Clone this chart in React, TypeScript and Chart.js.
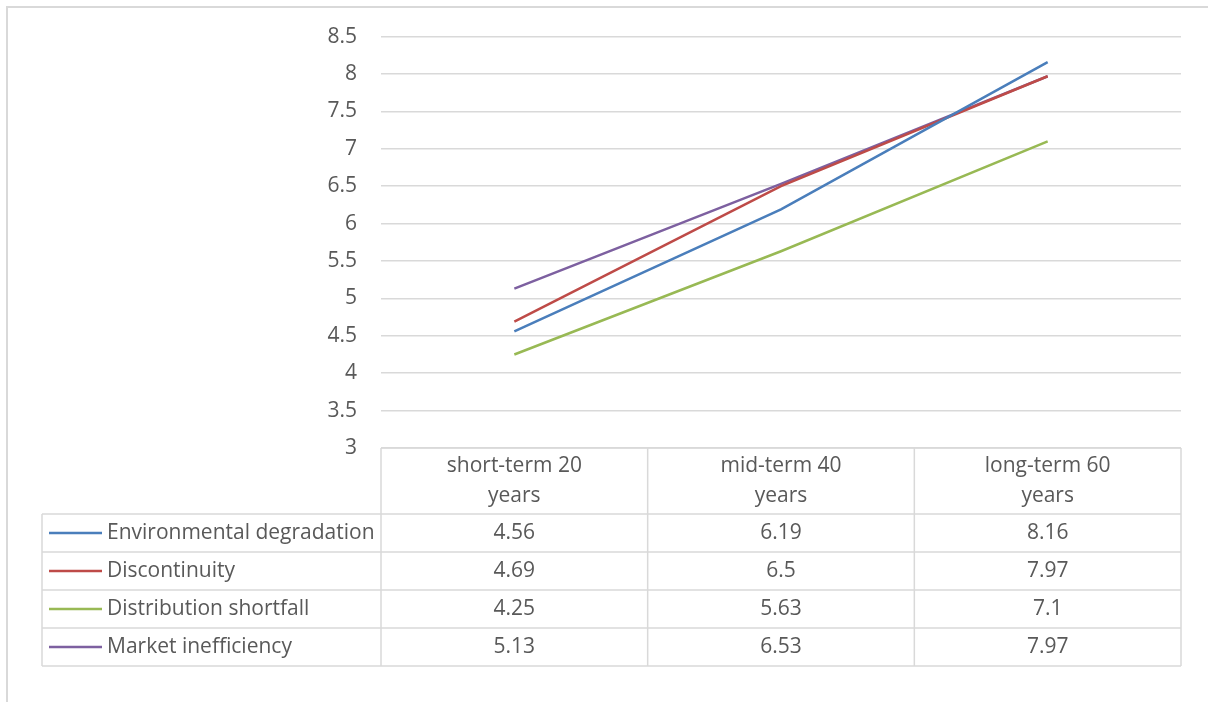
import React, { useEffect, useRef } from "react";
import { Chart, registerables } from "chart.js";

Chart.register(...registerables);

const categories: string[][] = [
  ["short-term 20", "years"],
  ["mid-term 40", "years"],
  ["long-term 60", "years"],
];
const seriesNames = [
  "Environmental degradation",
  "Discontinuity",
  "Distribution shortfall",
  "Market inefficiency",
];
const environmentalDegradation = [4.56, 6.19, 8.16];
const discontinuity = [4.69, 6.5, 7.97];
const distributionShortfall = [4.25, 5.63, 7.1];
const marketInefficiency = [5.13, 6.53, 7.97];
const seriesValues = [
  environmentalDegradation,
  discontinuity,
  distributionShortfall,
  marketInefficiency,
];
const seriesColors = ["#4A7EBB", "#BE4B48", "#98B954", "#7D60A0"];
const yMin = 3;
const yMax = 8.5;
const yStep = 0.5;

const FONT = "'Open Sans', Lato, sans-serif";
const FONT_SIZE = 21;
const TEXT = "#595959";
const LINE = "#D9D9D9";

const frameAndTable = {
  id: "frameAndTable",
  beforeDraw(chart: any) {
    const ctx = chart.ctx;
    ctx.save();
    ctx.strokeStyle = LINE;
    ctx.lineWidth = 2;
    ctx.beginPath();
    ctx.moveTo(7, 800);
    ctx.lineTo(7, 7);
    ctx.lineTo(1400, 7);
    ctx.stroke();
    ctx.restore();
  },
  afterDraw(chart: any) {
    const ctx = chart.ctx;
    const area = chart.chartArea;
    const xs = chart.scales.x;
    const colW = xs.getPixelForValue(1) - xs.getPixelForValue(0);
    const tableLeft = 42;
    const top = area.bottom;
    const headerH = 66;
    const rowH = 38;
    const n = categories.length;
    const bottom = top + headerH + rowH * seriesNames.length;

    ctx.save();
    ctx.strokeStyle = LINE;
    ctx.lineWidth = 1.5;
    ctx.beginPath();
    ctx.moveTo(area.left, top);
    ctx.lineTo(area.right, top);
    for (let r = 0; r <= seriesNames.length; r++) {
      const y = top + headerH + rowH * r;
      ctx.moveTo(tableLeft, y);
      ctx.lineTo(area.right, y);
    }
    for (let c = 0; c <= n; c++) {
      const x = xs.getPixelForValue(c) - colW / 2;
      ctx.moveTo(x, top);
      ctx.lineTo(x, bottom);
    }
    ctx.moveTo(tableLeft, top + headerH);
    ctx.lineTo(tableLeft, bottom);
    ctx.stroke();

    ctx.fillStyle = TEXT;
    ctx.font = `${FONT_SIZE}px ${FONT}`;
    ctx.textAlign = "center";
    ctx.textBaseline = "middle";
    categories.forEach((lines, i) => {
      const cx = xs.getPixelForValue(i);
      const lh = 30;
      const cy = top + headerH / 2 - ((lines.length - 1) * lh) / 2;
      lines.forEach((t, k) => ctx.fillText(t, cx, cy + k * lh));
    });
    seriesNames.forEach((name, r) => {
      const cy = top + headerH + rowH * r + rowH / 2;
      ctx.strokeStyle = seriesColors[r];
      ctx.lineWidth = 2.5;
      ctx.beginPath();
      ctx.moveTo(49, cy);
      ctx.lineTo(102, cy);
      ctx.stroke();
      ctx.textAlign = "left";
      ctx.fillText(name, 107, cy);
      ctx.textAlign = "center";
      seriesValues[r].forEach((v, i) => {
        ctx.fillText(String(v), xs.getPixelForValue(i), cy);
      });
    });
    ctx.restore();
  },
};

export default function App() {
  const ref = useRef<HTMLCanvasElement | null>(null);
  useEffect(() => {
    if (!ref.current) return;
    const chart = new Chart(ref.current, {
      type: "line",
      data: {
        labels: categories,
        datasets: seriesNames.map((name, i) => ({
          label: name,
          data: seriesValues[i],
          borderColor: seriesColors[i],
          backgroundColor: seriesColors[i],
          borderWidth: 2.5,
          pointRadius: 0,
          tension: 0,
        })),
      },
      options: {
        animation: false,
        responsive: false,
        layout: { padding: { top: 31, bottom: 254, right: 27, left: 0 } },
        plugins: { legend: { display: false }, tooltip: { enabled: false } },
        scales: {
          x: { display: false, offset: true },
          y: {
            min: yMin,
            max: yMax,
            afterFit(scale: any) {
              scale.width = 381;
            },
            border: { display: false },
            grid: { color: LINE, lineWidth: 1.5, drawTicks: false },
            ticks: {
              stepSize: yStep,
              padding: 24,
              color: TEXT,
              font: { family: FONT, size: FONT_SIZE },
              callback: (v: any) => String(Number(v)),
            },
          },
        },
      },
      plugins: [frameAndTable],
    });
    return () => chart.destroy();
  }, []);
  return (
    <div style={{ position: "fixed", left: 0, top: 0, width: 1208, height: 702, background: "#fff" }}>
      <canvas ref={ref} width={1208} height={702} />
    </div>
  );
}
